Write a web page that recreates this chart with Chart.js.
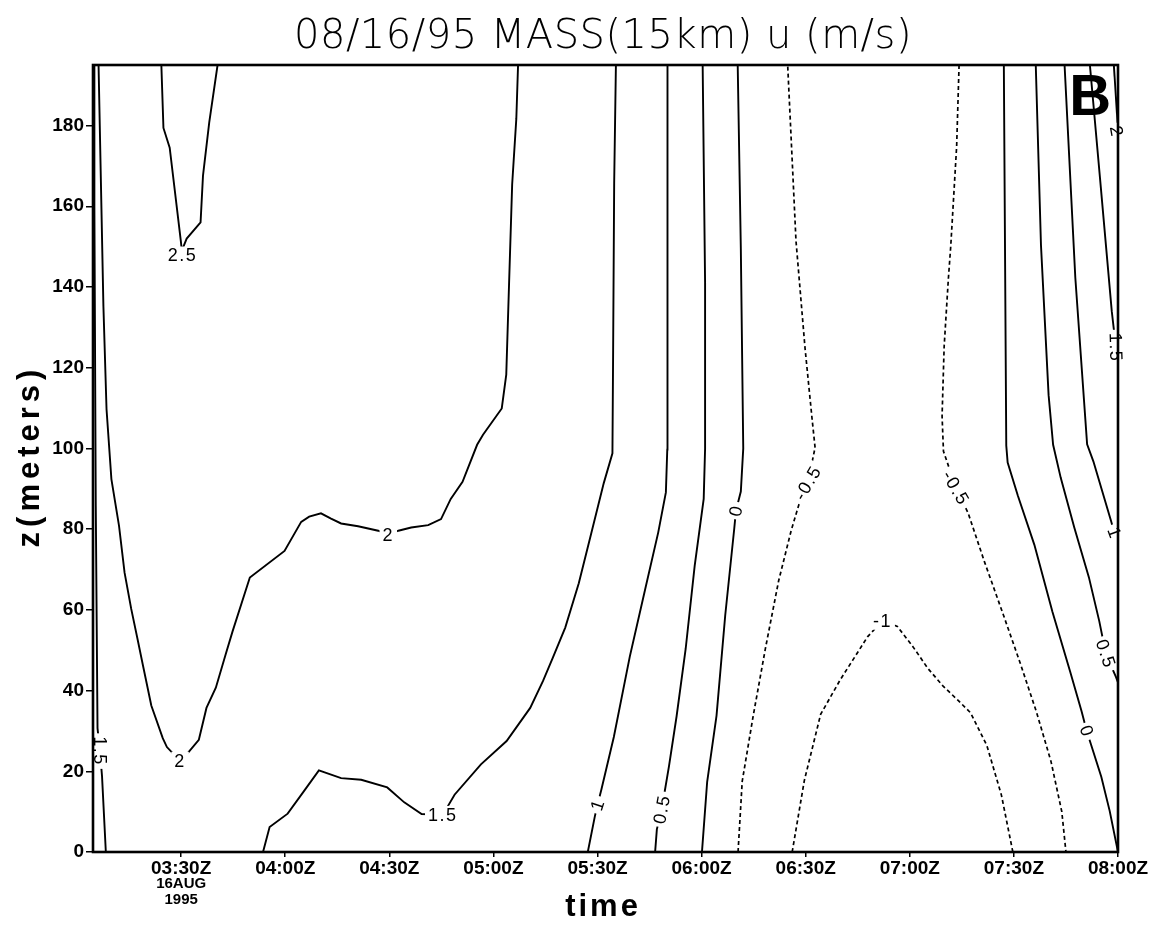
<!DOCTYPE html>
<html>
<head>
<meta charset="utf-8">
<script src="https://cdn.jsdelivr.net/npm/chart.js@4.4.1/dist/chart.umd.min.js"></script>
<style>
  html, body { margin: 0; padding: 0; background: #fff; }
  #wrap { width: 1152px; height: 928px; }
</style>
</head>
<body>
<div id="wrap"><canvas id="cv" width="1152" height="928"></canvas></div>
<script>
// time axis in minutes after 03:00Z, height in meters
const timeTicks = [30, 60, 90, 120, 150, 180, 210, 240, 270, 300];
const timeLabels = ['03:30Z', '04:00Z', '04:30Z', '05:00Z', '05:30Z', '06:00Z', '06:30Z', '07:00Z', '07:30Z', '08:00Z'];
const dateLines = ['16AUG', '1995'];
const zTicks = [0, 20, 40, 60, 80, 100, 120, 140, 160, 180];

// contour lines of u (m/s), points are [minutes, meters]
const u2_5 = [[24.3,195],[24.9,179.4],[26.7,174.5],[29.9,151.5],[30.2,149],[31.6,152],[35.6,156],[36.3,167.6],[38.1,180.8],[40.5,195]];
const u2_0 = [[6.2,195],[7.6,135.2],[8.5,109.7],[9.9,92.4],[12.1,80.8],[13.7,69.2],[15.6,60.3],[17.4,52.9],[19.0,46.2],[21.4,36.3],[24.7,28.2],[25.9,26.0],[29.7,22.6],[32.2,24.8],[35.1,27.8],[37.3,35.7],[40.0,40.7],[42.8,48.9],[44.8,54.6],[49.8,68.0],[59.8,74.6],[64.6,81.8],[66.9,83.1],[70.3,83.9],[73.2,82.6],[76.1,81.4],[81.0,80.7],[86.8,79.6],[89.7,78.6],[92.6,79.6],[96.3,80.4],[101.2,81.0],[104.9,82.5],[107.7,87.5],[111.1,91.7],[115.3,100.9],[117.0,103.4],[122.4,109.9],[123.7,118.3],[124.5,140.6],[125.4,165.4],[126.6,181.7],[127.1,195]];
const u1_5w = [[8.3,0],[7.2,18.8],[6.6,25.0],[5.9,30.7],[5.4,85.7],[5.0,160],[5.0,195]];
const u1_5 = [[53.6,0],[55.5,6.2],[60.7,9.5],[65.5,15.2],[69.7,20.2],[76.1,18.3],[81.9,17.9],[89.4,16.0],[94.3,12.3],[99.3,9.4],[105.4,9.2],[108.8,14.2],[116.4,21.7],[123.8,27.5],[130.6,35.7],[134.3,42.4],[137.1,48.1],[140.7,55.6],[144.6,66.6],[148.2,79.0],[151.8,91.4],[154.3,98.8],[154.5,124.3],[154.8,165.7],[155.3,195]];
const u1_0 = [[147.2,0],[149.2,8.7],[150.0,11.7],[151.1,15.4],[154.7,28.5],[159.3,48.4],[163.7,65.0],[167.5,79.2],[169.7,89.1],[170.1,99.7],[170.1,116.3],[170.2,157.4],[170.2,195]];
const u0_5 = [[166.6,0],[167.1,5.6],[168.5,10.6],[170.6,21.3],[172.8,33.7],[175.4,50.3],[178.0,70.9],[180.6,87.5],[181.0,99.9],[181.0,141.2],[180.3,195]];
const u0_0 = [[180.1,0],[181.6,17.4],[184.3,33.8],[186.8,58.6],[189.4,80.1],[189.9,84.6],[191.3,89.3],[192.0,100.0],[191.3,149.5],[190.4,195]];
const um0_5 = [[190.5,0],[191.7,17.5],[194.9,33.9],[198.4,50.5],[202.2,67.2],[205.8,79.6],[208.0,86.0],[210.6,91.5],[212.7,100.2],[211.8,107.6],[209.8,124.9],[207.2,151.4],[204.8,195]];
const um1_0 = [[206.1,0],[209.6,17.7],[214.3,34.1],[219.9,42.6],[223.6,47.6],[227.8,53.3],[232.1,57.3],[236.4,55.9],[240.8,51.0],[245.2,45.5],[249.6,41.1],[254.0,37.5],[257.5,34.5],[262.2,26.4],[266.4,14.1],[269.7,0]];
const um0_5e = [[254.2,195],[253.5,174.9],[251.8,150.1],[251.1,141.9],[249.9,125.3],[249.3,108.0],[249.7,99.3],[253.3,90.2],[256.8,84.0],[261.6,71.7],[266.7,59.4],[271.7,47.1],[276.5,34.7],[280.7,22.4],[283.8,10.0],[285.0,0]];
const u0_0e = [[267.1,195],[267.8,100.7],[268.2,96.5],[271.1,88.4],[275.9,76.1],[281.1,59.5],[286.2,44.7],[289.5,34.9],[291.0,29.9],[292.2,26.7],[295.2,18.6],[297.6,10.2],[300,0]];
const u0_5e = [[276.3,195],[277.8,150.4],[280.0,113.2],[281.3,100.9],[283.5,92.7],[287.4,80.4],[291.6,68.1],[294.6,57.2],[296.5,49.1],[299.4,43.4],[300,42]];
const u1_0e = [[284.6,195],[287.7,142.3],[291.1,101.0],[292.9,96.8],[298.0,82.0],[299.0,79.0],[300,77.5]];
const u1_5e = [[291.9,195],[294.8,167.1],[298.2,134.0],[299.4,125],[300,121]];
const u2_0e = [[298.8,195],[300,179]];

const solidLines = [u2_5, u2_0, u1_5w, u1_5, u1_0, u0_5, u0_0, u0_0e, u0_5e, u1_0e, u1_5e, u2_0e];
const dashedLines = [um0_5, um1_0, um0_5e];

// contour labels: text, minutes, meters
const labelText = ['2.5', '2', '2', '1.5', '1.5', '1', '0.5', '0', '-0.5', '-1', '-0.5', '0', '0.5', '1', '1.5', '2'];
const labelTime = [30.4, 29.7, 89.7, 105.4, 6.6, 150.0, 168.5, 189.9, 210.6, 232.1, 253.3, 291.0, 296.5, 299.0, 299.4, 299.6];
const labelZ = [147.8, 22.6, 78.6, 9.2, 25.0, 11.7, 10.6, 84.6, 91.5, 57.3, 90.2, 29.9, 49.1, 79.0, 125, 178.5];
const labelAngle = [0, 0, 0, 0, 90, -72, -80, -80, -60, 0, 60, 70, 72, 70, 88, 80];

const toPts = arr => arr.map(p => ({ x: p[0], y: p[1] }));

const datasets = [];
solidLines.forEach(l => datasets.push({
  data: toPts(l), borderColor: '#000', borderWidth: 1.9, pointRadius: 0, tension: 0, fill: false
}));
dashedLines.forEach(l => datasets.push({
  data: toPts(l), borderColor: '#000', borderWidth: 1.7, borderDash: [4, 3], pointRadius: 0, tension: 0, fill: false
}));

const tickFont = { family: '"Liberation Sans", Arial, sans-serif', size: 19, weight: 'bold' };

// titles, contour labels, frame and panel letter
const decor = {
  id: 'decor',
  afterDatasetsDraw(chart) {
    const c = chart.ctx, a = chart.chartArea;
    const xs = chart.scales.x, ys = chart.scales.y;

    c.save();
    c.font = '18px "Liberation Sans", Arial, sans-serif';
    c.letterSpacing = '1.5px';
    c.textAlign = 'center';
    c.textBaseline = 'middle';
    labelText.forEach((t, i) => {
      const px = xs.getPixelForValue(labelTime[i]);
      const py = ys.getPixelForValue(labelZ[i]);
      c.save();
      c.translate(px, py);
      c.rotate(labelAngle[i] * Math.PI / 180);
      const w = c.measureText(t).width + 6;
      c.fillStyle = '#fff';
      c.fillRect(-w / 2, -9, w, 18);
      c.fillStyle = '#000';
      c.fillText(t, 0, 1);
      c.restore();
    });
    c.restore();

    // frame
    c.save();
    c.strokeStyle = '#000';
    c.lineWidth = 2.6;
    c.strokeRect(a.left, a.top, a.right - a.left, a.bottom - a.top);
    c.restore();

    // panel letter
    c.save();
    c.font = 'bold 58px "Liberation Sans", Arial, sans-serif';
    c.textAlign = 'center';
    c.textBaseline = 'middle';
    c.fillStyle = '#000';
    c.fillText('B', xs.getPixelForValue(292), ys.getPixelForValue(187) + 2);
    c.restore();
  },
  afterDraw(chart) {
    const c = chart.ctx;
    const xs = chart.scales.x;
    c.save();
    c.fillStyle = '#000';
    c.textAlign = 'center';
    c.textBaseline = 'middle';

    c.font = '200 40px "DejaVu Sans", sans-serif';
    c.letterSpacing = '0.5px';
    c.fillText('08/16/95 MASS(15km) u (m/s)', 603, 38);

    c.font = 'bold 15px "Liberation Sans", Arial, sans-serif';
    c.letterSpacing = '0px';
    const x0 = xs.getPixelForValue(timeTicks[0]);
    c.fillText(dateLines[0], x0, 884);
    c.fillText(dateLines[1], x0, 900);

    c.font = 'bold 31px "Liberation Sans", Arial, sans-serif';
    c.letterSpacing = '3px';
    c.fillText('time', 603, 907);

    c.translate(30, 456);
    c.rotate(-Math.PI / 2);
    c.letterSpacing = '5px';
    c.fillText('z(meters)', 0, 0);
    c.restore();
  }
};

new Chart(document.getElementById('cv'), {
  type: 'line',
  data: { datasets },
  options: {
    responsive: false,
    animation: false,
    events: [],
    layout: { padding: { top: 65, right: 34, left: 0, bottom: 0 } },
    plugins: { legend: { display: false }, tooltip: { enabled: false }, title: { display: false } },
    scales: {
      x: {
        type: 'linear',
        min: 4.6,
        max: 300,
        afterBuildTicks: s => { s.ticks = timeTicks.map(v => ({ value: v })); },
        afterFit: s => { s.height = 76; },
        ticks: {
          font: tickFont,
          color: '#000',
          maxRotation: 0,
          autoSkip: false,
          padding: 0,
          callback: v => timeLabels[timeTicks.indexOf(v)]
        },
        grid: { display: true, drawOnChartArea: false, tickLength: 5, color: '#000', lineWidth: 1.5 },
        border: { display: false }
      },
      y: {
        type: 'linear',
        min: 0,
        max: 195,
        afterBuildTicks: s => { s.ticks = zTicks.map(v => ({ value: v })); },
        afterFit: s => { s.width = 93; },
        ticks: { font: tickFont, color: '#000', padding: 2 },
        grid: { display: true, drawOnChartArea: false, tickLength: 7, color: '#000', lineWidth: 1.5 },
        border: { display: false }
      }
    }
  },
  plugins: [decor]
});
</script>
</body>
</html>
